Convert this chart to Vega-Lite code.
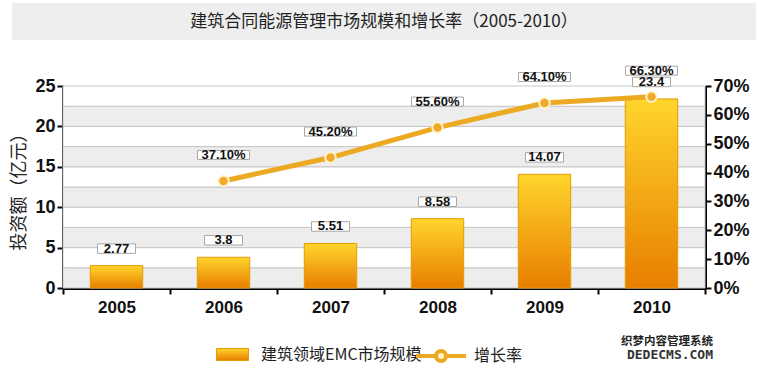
{
  "$schema": "https://vega.github.io/schema/vega-lite/v6.json",
  "background": "white",
  "padding": {"left": 10, "top": 3, "right": 0, "bottom": 0},
  "config": {"view": {"stroke": null}, "font": "Liberation Sans"},
  "bounds": "flush",
  "center": true,
  "spacing": 46,
  "vconcat": [
    {
      "width": 744,
      "height": 37,
      "view": {"fill": "#EEEEEE", "stroke": null},
      "data": {"values": [{"t": "建筑合同能源管理市场规模和增长率（2005-2010）"}]},
      "mark": {"type": "text", "font": "Noto Sans CJK SC", "fontSize": 17, "color": "#222222"},
      "encoding": {"text": {"field": "t"}}
    },
    {
      "width": 642,
      "height": 202,
      "data": {"values": [
        {"year": "2005", "size": 2.77, "rate": null},
        {"year": "2006", "size": 3.8, "rate": 0.371},
        {"year": "2007", "size": 5.51, "rate": 0.452},
        {"year": "2008", "size": 8.58, "rate": 0.556},
        {"year": "2009", "size": 14.07, "rate": 0.641},
        {"year": "2010", "size": 23.4, "rate": 0.663}
      ]},
      "title": {
        "text": "织梦内容管理系统",
        "subtitle": "DEDECMS.COM",
        "orient": "bottom",
        "anchor": "end",
        "align": "right",
        "offset": 21,
        "dx": -36,
        "font": "Noto Sans CJK SC",
        "fontSize": 11.5,
        "fontWeight": "bold",
        "color": "#222222",
        "subtitleFont": "DejaVu Sans Mono",
        "subtitleFontSize": 13,
        "subtitleFontWeight": "bold",
        "subtitleColor": "#333333",
        "subtitlePadding": 1
      },
      "layer": [
        {
          "encoding": {
            "x": {
              "field": "year", "type": "nominal",
              "scale": {"paddingInner": 0, "paddingOuter": 0},
              "axis": {
                "title": null, "labelAngle": 0, "grid": false,
                "domainColor": "#000000", "domainWidth": 3,
                "tickColor": "#000000", "tickWidth": 2, "tickSize": 6, "tickBand": "extent",
                "labelFont": "Liberation Sans", "labelFontWeight": "bold", "labelFontSize": 17,
                "labelColor": "#111111", "labelPadding": 5
              }
            },
            "y": {
              "field": "size", "type": "quantitative", "title": "投资额（亿元）",
              "scale": {"domain": [0, 25], "nice": false},
              "axis": {
                "title": "投资额（亿元）", "orient": "left", "grid": false,
                "values": [0, 5, 10, 15, 20, 25],
                "domainColor": "#000000", "domainWidth": 3,
                "tickColor": "#000000", "tickWidth": 2, "tickSize": 6,
                "labelFont": "Liberation Sans", "labelFontWeight": "bold", "labelFontSize": 18,
                "labelColor": "#111111", "labelPadding": 2,
                "titleFont": "Noto Sans CJK SC", "titleFontSize": 18, "titleFontWeight": "normal",
                "titleColor": "#222222", "titlePadding": 6
              }
            }
          },
          "layer": [
            {
              "data": {"values": [
                {"lo": 0, "hi": 2.5}, {"lo": 2.5, "hi": 5}, {"lo": 5, "hi": 7.5}, {"lo": 7.5, "hi": 10},
                {"lo": 10, "hi": 12.5}, {"lo": 12.5, "hi": 15}, {"lo": 15, "hi": 17.5}, {"lo": 17.5, "hi": 20},
                {"lo": 20, "hi": 22.5}, {"lo": 22.5, "hi": 25}
              ]},
              "mark": {"type": "rect", "stroke": "#C8C8C8", "strokeWidth": 1},
              "encoding": {
                "x": {"value": 0},
                "x2": {"value": "width"},
                "y": {"field": "lo", "type": "quantitative", "title": "投资额（亿元）"},
                "y2": {"field": "hi"},
                "fill": {"condition": {"test": "datum.lo % 5 === 0", "value": "#EDEDED"}, "value": "#FFFFFF"}
              }
            },
            {
              "mark": {
                "type": "bar",
                "width": {"band": 0.49},
                "strokeWidth": 1,
                "color": {
                  "gradient": "linear", "x1": 0, "y1": 0, "x2": 0, "y2": 1,
                  "stops": [
                    {"offset": 0, "color": "#FFD52C"},
                    {"offset": 1, "color": "#E87E00"}
                  ]
                }
              },
              "encoding": {
                "stroke": {
                  "datum": "建筑领域EMC市场规模",
                  "scale": {"range": ["#E39B00"]},
                  "legend": {
                    "title": null, "orient": "none", "legendX": 204, "legendY": 335,
                    "symbolType": "M-1,-0.375H1V0.375H-1Z", "symbolSize": 1024,
                    "symbolStrokeWidth": 1,
                    "labelFont": "Noto Sans CJK SC", "labelFontSize": 16, "labelColor": "#222222",
                    "labelOffset": 12, "labelLimit": 300,
                    "encode": {"symbols": {"update": {"fill": {"value": {
                      "gradient": "linear", "x1": 0, "y1": 0, "x2": 0, "y2": 1,
                      "stops": [{"offset": 0, "color": "#FFD52C"}, {"offset": 1, "color": "#E87E00"}]
                    }}, "opacity": {"value": 1}}}}
                  }
                }
              }
            },
            {
              "mark": {
                "type": "point", "shape": "M-1,-0.25H1V0.25H-1Z", "size": 1444,
                "filled": true, "fill": "#FFFFFF", "stroke": "#A8A8A8", "strokeWidth": 1,
                "opacity": 1, "yOffset": -17
              }
            },
            {
              "mark": {
                "type": "text", "font": "Liberation Sans", "fontWeight": "bold", "fontSize": 13,
                "color": "#111111", "yOffset": -17
              },
              "encoding": {"text": {"field": "size", "type": "nominal"}}
            }
          ]
        },
        {
          "transform": [{"filter": "datum.rate != null"}],
          "encoding": {
            "x": {"field": "year", "type": "nominal"},
            "y": {
              "field": "rate", "type": "quantitative",
              "scale": {"domain": [0, 0.7], "nice": false},
              "axis": {
                "title": null, "orient": "right", "grid": false,
                "values": [0, 0.1, 0.2, 0.3, 0.4, 0.5, 0.6, 0.7], "format": ".0%",
                "domainColor": "#000000", "domainWidth": 3,
                "tickColor": "#000000", "tickWidth": 2, "tickSize": 6,
                "labelFont": "Liberation Sans", "labelFontWeight": "bold", "labelFontSize": 18,
                "labelColor": "#111111", "labelPadding": 2
              }
            }
          },
          "layer": [
            {
              "mark": {"type": "line", "strokeWidth": 5},
              "encoding": {
                "color": {
                  "datum": "增长率",
                  "scale": {"range": ["#EBAA22"]},
                  "legend": {
                    "title": null, "orient": "none", "legendX": 402, "legendY": 326,
                    "symbolType": "M-1,0H-0.24M0.24,0H1M-0.2,0A0.2,0.2,0,1,0,0.2,0A0.2,0.2,0,1,0,-0.2,0Z",
                    "symbolSize": 2500, "symbolStrokeWidth": 4,
                    "labelFont": "Noto Sans CJK SC", "labelFontSize": 16, "labelColor": "#222222",
                    "labelOffset": 6,
                    "encode": {"symbols": {"update": {"fill": {"value": "#FFF3C4"}, "opacity": {"value": 1}}}}
                  }
                }
              }
            },
            {
              "mark": {
                "type": "point", "filled": true, "size": 110, "fill": "#F0A92A",
                "stroke": "#FFF4CF", "strokeWidth": 2, "opacity": 1
              }
            },
            {
              "mark": {
                "type": "point", "shape": "M-1,-0.173H1V0.173H-1Z", "size": 2704,
                "filled": true, "fill": "#FFFFFF", "stroke": "#A8A8A8", "strokeWidth": 1,
                "opacity": 1, "yOffset": -26
              }
            },
            {
              "mark": {
                "type": "text", "font": "Liberation Sans", "fontWeight": "bold", "fontSize": 13,
                "color": "#111111", "yOffset": -26
              },
              "encoding": {"text": {"field": "rate", "type": "quantitative", "format": ".2%"}}
            }
          ]
        }
      ],
      "resolve": {"scale": {"y": "independent"}}
    }
  ]
}
